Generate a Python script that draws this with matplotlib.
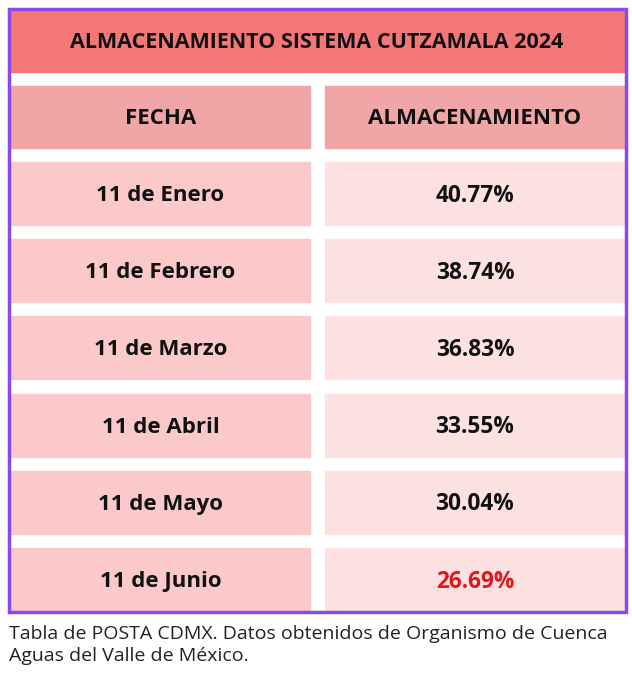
import matplotlib
matplotlib.use("Agg")
import matplotlib.pyplot as plt
from matplotlib.patches import Rectangle

title = "ALMACENAMIENTO SISTEMA CUTZAMALA 2024"
headers = ["FECHA", "ALMACENAMIENTO"]
fechas = ["11 de Enero", "11 de Febrero", "11 de Marzo", "11 de Abril", "11 de Mayo", "11 de Junio"]
valores = [40.77, 38.74, 36.83, 33.55, 30.04, 26.69]
caption = "Tabla de POSTA CDMX. Datos obtenidos de Organismo de Cuenca\nAguas del Valle de México."

plt.rcParams["font.family"] = "Open Sans"
fig = plt.figure(figsize=(6.32, 6.76), dpi=100)
ax = fig.add_axes([0, 0, 1, 1])
ax.set_xlim(0, 632); ax.set_ylim(676, 0); ax.axis("off")

ax.add_patch(Rectangle((9, 9), 616, 63, color="#f47878", zorder=1))
ax.text(317, 43, title, ha="center", va="center", fontsize=15.5, fontweight="bold", color="#111111")
cols = [(11, 299), (325, 300)]
ax.add_patch(Rectangle((cols[0][0], 86), cols[0][1], 62, color="#f0a6a6"))
ax.add_patch(Rectangle((cols[1][0], 86), cols[1][1], 62, color="#f0a6a6"))
for (x, w), h in zip(cols, headers):
    ax.text(x + w / 2, 119, h, ha="center", va="center", fontsize=16, fontweight="bold", color="#111111")
row_h, step, y0 = 63, 77.2, 162
for i, (f, v) in enumerate(zip(fechas, valores)):
    y = y0 + i * step
    ax.add_patch(Rectangle((cols[0][0], y), cols[0][1], row_h, color="#fbc9c9"))
    ax.add_patch(Rectangle((cols[1][0], y), cols[1][1], row_h, color="#fde1e1"))
    ax.text(cols[0][0] + cols[0][1] / 2, y + row_h / 2 + 2, f, ha="center", va="center",
            fontsize=16, fontweight="bold", color="#111111")
    col = "#e8141b" if i == len(valores) - 1 else "#111111"
    ax.text(cols[1][0] + cols[1][1] / 2, y + row_h / 2 + 2, f"{v:.2f}%", ha="center", va="center",
            fontsize=16.3, fontweight="bold", color=col)
ax.add_patch(Rectangle((8.5, 8.5), 617, 603, fill=False, edgecolor="#8a4ae8", linewidth=2.5, zorder=5))
ax.text(9, 625, caption, ha="left", va="top", fontsize=14, color="#222222", linespacing=1.3)
fig.savefig("out.png", dpi=100, facecolor="white")
